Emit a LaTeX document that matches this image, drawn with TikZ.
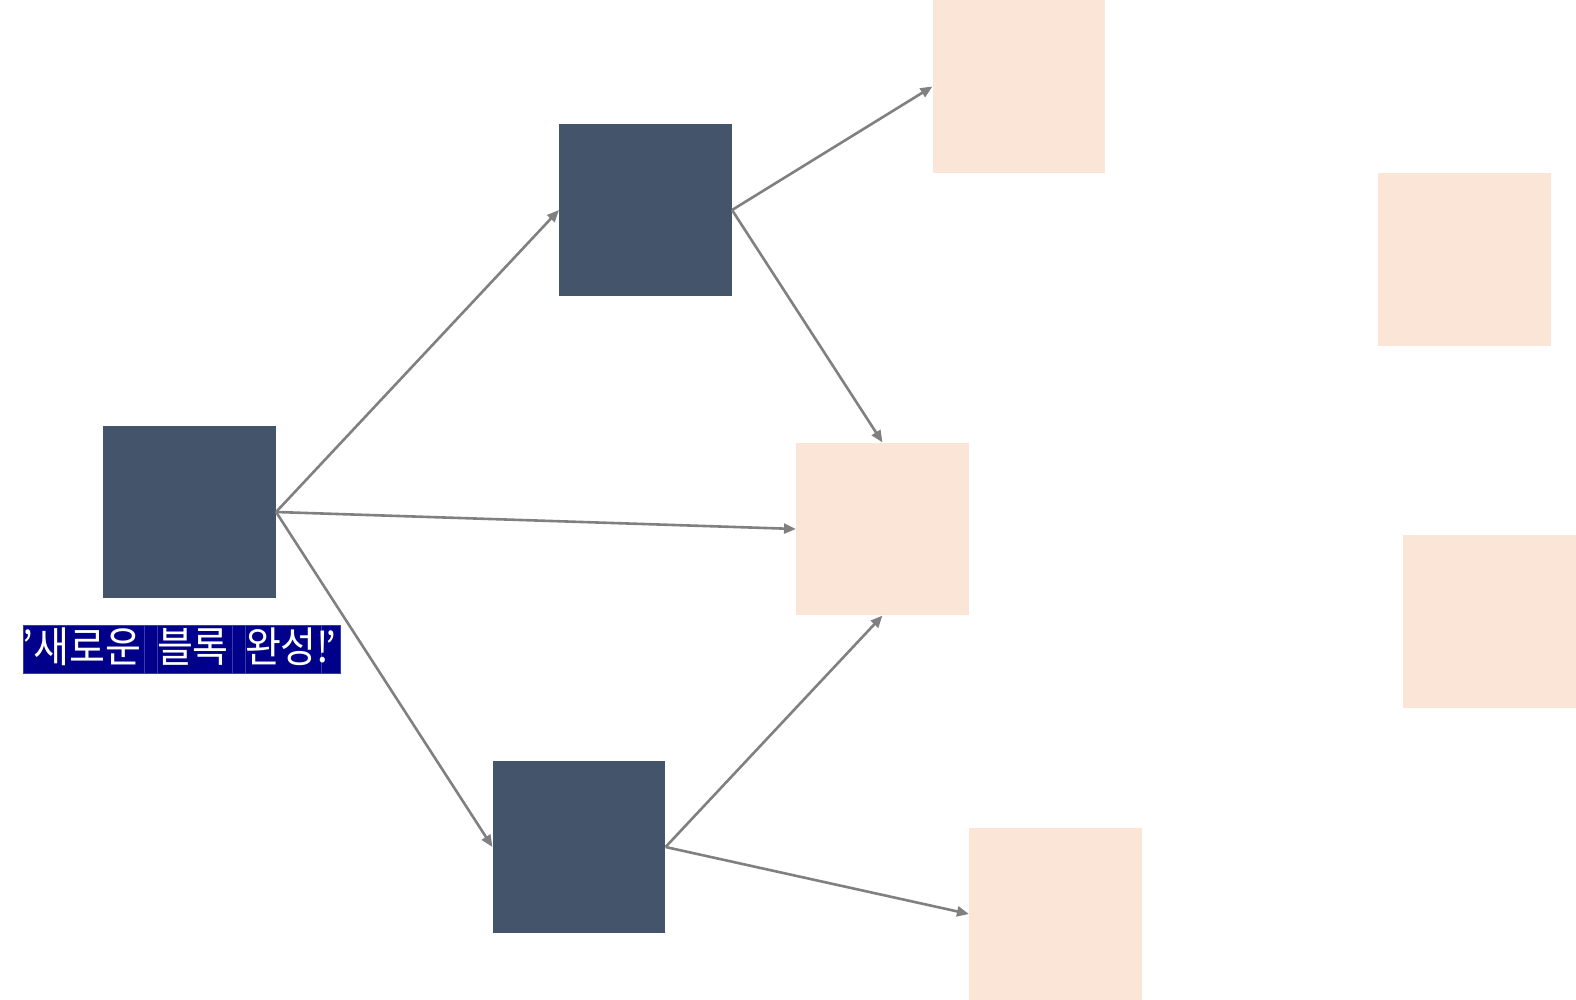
\documentclass[tikz,border=0pt]{standalone}
\usepackage{fontspec}
\newfontfamily\kr[FakeStretch=0.93]{Noto Sans CJK KR}
\usetikzlibrary{arrows.meta}
\definecolor{darkbox}{HTML}{44546A}
\definecolor{peach}{HTML}{FBE5D6}
\definecolor{lblnavy}{HTML}{00008B}
\definecolor{lblsep}{HTML}{3A3AA8}
\definecolor{arrowgray}{HTML}{808080}
\begin{document}
\begin{tikzpicture}[x=1pt,y=-1pt,
  darksq/.style={rectangle,fill=darkbox,minimum size=172.7pt,inner sep=0pt},
  peachsq/.style={rectangle,fill=peach,minimum size=172.7pt,inner sep=0pt},
  seg/.style={rectangle,fill=lblnavy,draw=lblsep,line width=0.6pt,minimum height=48pt,inner sep=0pt,outer sep=0pt,anchor=west},
  lbltext/.style={inner sep=0pt,outer sep=0pt,anchor=west,text=white,font=\kr\fontsize{42}{46}\selectfont},
  conn/.style={draw=arrowgray,line width=2.6pt,-{Triangle[length=12pt,width=10pt]}}]
\useasboundingbox (0,0) rectangle (1576,1000);
\node[darksq] (A) at (189.5,512) {};
\node[darksq] (B) at (645.5,210) {};
\node[darksq] (C) at (579,847) {};
\node[peachsq] (D) at (1019,86.5) {};
\node[peachsq] (E) at (882.5,529) {};
\node[peachsq] (F) at (1464.5,259.5) {};
\node[peachsq] (G) at (1489.5,621.5) {};
\node[peachsq] (H) at (1055.5,914) {};
\node[seg,minimum width=121pt] (s1) at (23,649) {};
\node[seg,minimum width=13pt] (s2) at (s1.east) {};
\node[seg,minimum width=75pt] (s3) at (s2.east) {};
\node[seg,minimum width=13pt] (s4) at (s3.east) {};
\node[seg,minimum width=76pt] (s5) at (s4.east) {};
\node[seg,minimum width=19pt] (s6) at (s5.east) {};
\node[lbltext] (t1) at ([yshift=2pt]s1.west) {’새로운};
\node[lbltext] (t3) at ([yshift=2pt]s3.west) {블록};
\node[lbltext] (t5) at ([yshift=2pt]s5.west) {완성!};
\node[lbltext] (t6) at ([xshift=4pt,yshift=2pt]s6.west) {’};
\draw[conn] (A.east) -- (B.west);
\draw[conn] (A.east) -- (E.west);
\draw[conn] (A.east) -- (C.west);
\draw[conn] (B.east) -- (D.west);
\draw[conn] (B.east) -- (E.north);
\draw[conn] (C.east) -- (E.south);
\draw[conn] (C.east) -- (H.west);
\end{tikzpicture}
\end{document}
